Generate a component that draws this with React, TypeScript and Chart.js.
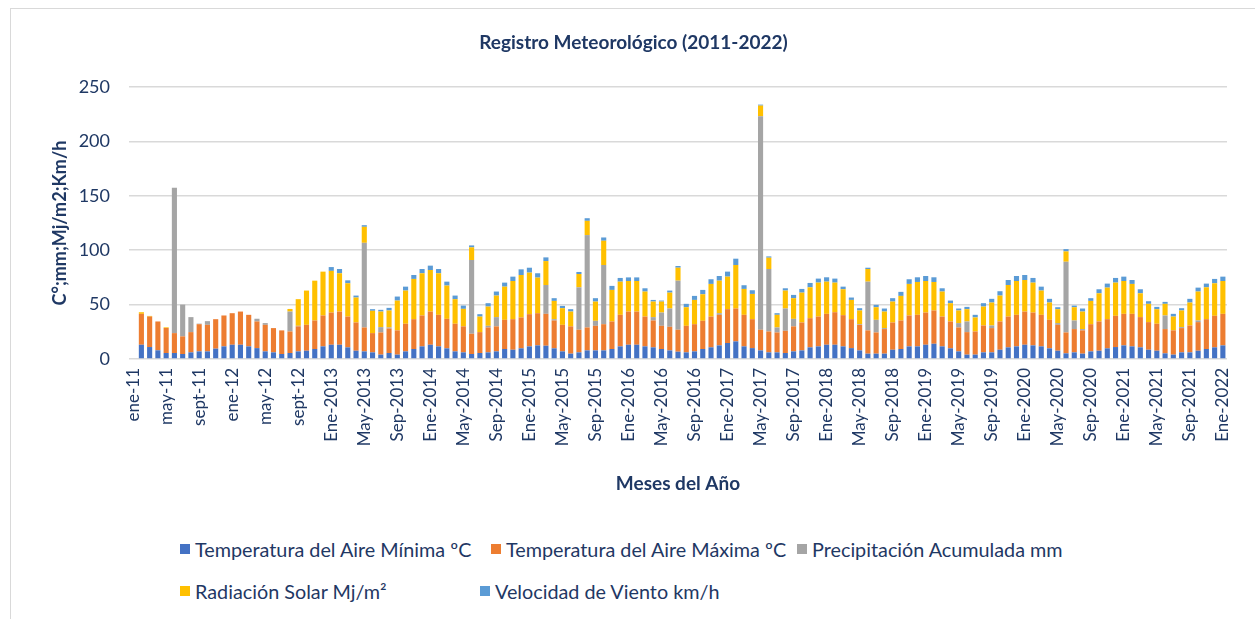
import React, { useEffect, useRef } from "react";
import { Chart, registerables } from "chart.js";
Chart.register(...registerables);

const categories = [
  "ene-11","feb-11","mar-11","abr-11","may-11","jun-11","jul-11","ago-11","sept-11","oct-11","nov-11","dic-11",
  "ene-12","feb-12","mar-12","abr-12","may-12","jun-12","jul-12","ago-12","sept-12","oct-12","nov-12","dic-12",
  "Ene-2013","Feb-2013","Mar-2013","Abr-2013","May-2013","Jun-2013","Jul-2013","Ago-2013","Sep-2013","Oct-2013","Nov-2013","Dic-2013",
  "Ene-2014","Feb-2014","Mar-2014","Abr-2014","May-2014","Jun-2014","Jul-2014","Ago-2014","Sep-2014","Oct-2014","Nov-2014","Dic-2014",
  "Ene-2015","Feb-2015","Mar-2015","Abr-2015","May-2015","Jun-2015","Jul-2015","Ago-2015","Sep-2015","Oct-2015","Nov-2015","Dic-2015",
  "Ene-2016","Feb-2016","Mar-2016","Abr-2016","May-2016","Jun-2016","Jul-2016","Ago-2016","Sep-2016","Oct-2016","Nov-2016","Dic-2016",
  "Ene-2017","Feb-2017","Mar-2017","Abr-2017","May-2017","Jun-2017","Jul-2017","Ago-2017","Sep-2017","Oct-2017","Nov-2017","Dic-2017",
  "Ene-2018","Feb-2018","Mar-2018","Abr-2018","May-2018","Jun-2018","Jul-2018","Ago-2018","Sep-2018","Oct-2018","Nov-2018","Dic-2018",
  "Ene-2019","Feb-2019","Mar-2019","Abr-2019","May-2019","Jun-2019","Jul-2019","Ago-2019","Sep-2019","Oct-2019","Nov-2019","Dic-2019",
  "Ene-2020","Feb-2020","Mar-2020","Abr-2020","May-2020","Jun-2020","Jul-2020","Ago-2020","Sep-2020","Oct-2020","Nov-2020","Dic-2020",
  "Ene-2021","Feb-2021","Mar-2021","Abr-2021","May-2021","Jun-2021","Jul-2021","Ago-2021","Sep-2021","Oct-2021","Nov-2021","Dic-2021",
  "Ene-2022",
];

const tickLabels = [
  "ene-11","may-11","sept-11","ene-12","may-12","sept-12",
  "Ene-2013","May-2013","Sep-2013","Ene-2014","May-2014","Sep-2014",
  "Ene-2015","May-2015","Sep-2015","Ene-2016","May-2016","Sep-2016",
  "Ene-2017","May-2017","Sep-2017","Ene-2018","May-2018","Sep-2018",
  "Ene-2019","May-2019","Sep-2019","Ene-2020","May-2020","Sep-2020",
  "Ene-2021","May-2021","Sep-2021","Ene-2022",
];

const tempMin = [
  null, 13.1, 11, 8, 5.5, 5.5, 4.6, 6.1, 7, 7, 9.5, 11.6,
  13.1, 13.1, 11.6, 10, 7, 6.1, 4.6, 5.5, 7, 7.6, 9.2, 11.6,
  13.1, 13.1, 10.7, 7.6, 7, 6.1, 4, 5.5, 4, 7, 9.2, 11.6,
  13.1, 11.6, 9.8, 7, 6.1, 4.6, 5.5, 6.1, 7, 9.2, 8.5, 9.8,
  11.6, 12.5, 12.2, 9.8, 7, 4.9, 6.1, 7.9, 7.9, 7.9, 9.2, 11.6,
  13.1, 13.1, 11.6, 10.7, 9.2, 7.9, 6.7, 6.1, 7, 9.2, 10.7, 12.5,
  14.7, 16.2, 11.6, 10, 7.9, 6.1, 6.1, 5.5, 7, 7.9, 10.7, 11.6,
  13.1, 13.1, 11.6, 10, 7.9, 4.9, 4.9, 4.9, 8.5, 9.2, 11.6, 11.6,
  13.1, 14, 11.6, 9.8, 7, 4, 4, 6.1, 6.1, 8.5, 10.7, 11.6,
  13.1, 12.5, 11.6, 9.8, 7.6, 5.2, 6.1, 4.9, 7, 7.6, 9.8, 11,
  12.5, 11.6, 10.7, 8.5, 7.6, 5.2, 4, 6.1, 6.1, 7.6, 9.2, 10.7,
  12.5,
];

const tempMax = [
  null, 28.4, 28, 26.5, 23, 18.3, 16.2, 18.6, 25, 24.4, 27.1, 28.4,
  29, 30.5, 29, 24.5, 24.4, 22.3, 21.7, 19.8, 23, 23.8, 26.2, 28.4,
  29.6, 30.5, 28.3, 26, 22, 17.7, 20.4, 22.5, 22.3, 25.4, 27.4, 28.4,
  30.5, 29, 27.1, 25.4, 23.9, 18.6, 19.2, 22.9, 23, 26.8, 28.1, 28.4,
  29.6, 29.6, 29.3, 25.6, 24.4, 25.1, 20.8, 21.1, 22.6, 24.1, 25.3, 29,
  30.5, 30.5, 27.4, 24.7, 21.3, 21.7, 20.2, 24.4, 25, 25.9, 28.3, 28.1,
  31.1, 30.2, 29, 26.6, 19, 19.2, 18.3, 20.4, 23, 25.7, 26.8, 27.4,
  28.4, 29.9, 28.7, 26.6, 23.5, 21.4, 19.5, 22.6, 25.1, 26.2, 28.4, 29,
  29.6, 30.6, 27.4, 24.7, 22, 20.7, 21.3, 24.7, 22.3, 26, 28.3, 29,
  30.5, 30.2, 29, 26.2, 23.8, 19.2, 21.4, 21.4, 25, 26.9, 26.8, 28.7,
  29, 29.9, 27.8, 25.4, 24.8, 22.3, 22.3, 22.3, 24.7, 26.3, 27.4, 29,
  29,
];

const precipitation = [
  null, 0, 0, 0, 0, 133.7, 29.2, 13.8, 0.5, 3.4, 0, 0,
  0, 0, 0, 2.5, 1.6, 0, 0, 18.3, 0.5, 0, 0, 0,
  0, 0, 0, 0, 77.8, 0, 4.9, 1, 0, 0, 0, 0,
  0, 0, 0, 0, 0, 67.8, 0, 1.5, 8.5, 0, 0, 0,
  0, 0, 26.5, 1.2, 0, 0, 39, 84.9, 4.6, 54.4, 0, 0,
  0, 0, 0, 3.1, 12.2, 16.8, 45.1, 0, 0, 0, 0, 1.5,
  0, 0, 0, 0, 196.2, 57.4, 4.6, 20.5, 6.9, 0, 0, 0,
  0, 0, 0, 0, 0.6, 44.8, 11.6, 0.9, 0, 0, 0, 0,
  0, 0, 0, 0, 4, 9.8, 0, 0, 2.4, 0, 0, 0,
  0, 0, 0, 0, 1.6, 65, 7.9, 1.2, 0, 0, 0, 0,
  0, 0, 0, 0, 0, 12.5, 0, 0.9, 0, 1.5, 0, 0,
  0,
];

const radiation = [
  null, 1.5, 0.6, 0, 0.6, 0, 0, 0, 0, 0, 0, 0,
  0, 0, 0, 0, 0, 0, 0, 2.4, 24.5, 31.5, 36.6, 40.3,
  38.3, 35.2, 30.6, 22.9, 14.7, 20.5, 14.3, 15.6, 27.4, 30.5, 37, 38.8,
  38.2, 38.2, 30.6, 22.6, 16.1, 11.6, 14.3, 17.7, 19.8, 30.5, 35.1, 39,
  38.2, 32.7, 22, 16.8, 15.3, 13.6, 12.2, 13.1, 17.7, 22.3, 29, 30.5,
  28.1, 28.1, 23, 14.3, 10.1, 14.6, 11.9, 17.1, 22.3, 24.4, 30, 29.9,
  29.9, 40, 23.8, 23.2, 9.8, 10.4, 11.6, 16.5, 19, 27.4, 28.4, 31.2,
  29.6, 27.2, 23.8, 17.7, 12.6, 11.6, 11.6, 15.2, 19.2, 22.6, 29, 30.2,
  29, 26.2, 23, 16.8, 11.6, 11.3, 12.9, 17.4, 21.1, 23.8, 29, 31.1,
  29, 27.5, 22.3, 15.9, 12.8, 9.5, 12.2, 16.1, 21.4, 25.9, 29, 30.5,
  30.2, 27.5, 21.9, 16.8, 13.4, 10.7, 12.7, 15.3, 21.1, 26.6, 29.3, 29.9,
  30.2,
];

const windSpeed = [
  null, 0, 0, 0, 0, 0, 0, 0, 0, 0, 0, 0,
  0, 0, 0, 0, 0, 0, 0, 0, 0, 0, 0, 0,
  3.5, 3.9, 2.7, 1.8, 1.5, 1.5, 1.6, 2.4, 3.7, 3.6, 3.6, 3.9,
  4, 3.9, 3.6, 3.3, 3, 1.8, 2.2, 3.1, 3.7, 3.7, 4, 5.2,
  4.5, 4, 3.4, 2.5, 2.1, 2.2, 1.9, 2.4, 3.1, 3, 3.7, 3.4,
  3.3, 3.3, 3, 1.5, 0.9, 1.9, 1.6, 3.1, 3.7, 4, 4.3, 4.3,
  4.6, 5.8, 3.4, 3.4, 0.9, 1.2, 1.5, 2.1, 3, 3.4, 4, 3.7,
  4, 3.7, 2.4, 2.2, 2.1, 1.2, 2.2, 2.8, 3.1, 3.7, 4.3, 4.3,
  4.6, 4.3, 3, 2.4, 1.8, 2.1, 2.4, 3.1, 3.4, 4, 4.6, 4.6,
  4.6, 4.3, 3.6, 3.4, 1.8, 2.1, 1.5, 2.8, 2.5, 3.7, 3.7, 4.3,
  4, 3.6, 3.7, 2.4, 2.1, 1.8, 2.5, 2.1, 3.4, 3.6, 3.4, 4,
  4,
];

const seriesNames = [
  "Temperatura del Aire Mínima ºC",
  "Temperatura del Aire Máxima ºC",
  "Precipitación Acumulada mm",
  "Radiación Solar Mj/m²",
  "Velocidad de Viento km/h",
];
const seriesColors = ["#4472C4", "#ED7D31", "#A5A5A5", "#FFC000", "#5B9BD5"];

const NAVY = "#1F3864";
const FONT = "Lato, 'Open Sans', sans-serif";

const legendPlaces = [
  { left: 180, top: 549 },
  { left: 491, top: 549 },
  { left: 797, top: 549 },
  { left: 180, top: 591 },
  { left: 480, top: 591 },
];

export default function App() {
  const ref = useRef<HTMLCanvasElement>(null);

  useEffect(() => {
    if (!ref.current) return;
    Chart.defaults.font.family = FONT;
    const values = [tempMin, tempMax, precipitation, radiation, windSpeed];
    const chart = new Chart(ref.current, {
      type: "bar",
      data: {
        labels: categories,
        datasets: values.map((v, i) => ({
          label: seriesNames[i],
          data: v,
          backgroundColor: seriesColors[i],
          borderWidth: 0,
          barPercentage: 0.62,
          categoryPercentage: 1,
        })),
      },
      options: {
        responsive: false,
        animation: false,
        layout: { padding: { left: 40, right: 28, top: 0, bottom: 0 } },
        plugins: {
          legend: { display: false },
          tooltip: { enabled: false },
          title: {
            display: true,
            text: "Registro Meteorológico (2011-2022)",
            color: NAVY,
            font: { size: 19, weight: "bold", family: FONT },
            padding: { top: 31.6, bottom: 32.6 },
          },
        },
        scales: {
          x: {
            stacked: true,
            offset: true,
            grid: { display: false, drawTicks: false },
            border: { display: false },
            ticks: {
              autoSkip: false,
              maxRotation: 90,
              minRotation: 90,
              padding: 9,
              color: NAVY,
              font: { size: 17, family: FONT },
              callback: (_v: any, idx: number) =>
                tickLabels.includes(categories[idx]) ? categories[idx] : "",
            },
            title: {
              display: true,
              text: "Meses del Año",
              color: NAVY,
              font: { size: 19, weight: "bold", family: FONT },
              padding: { top: 0, bottom: 24.6 },
            },
            afterFit: (s: any) => {
              s.height = 161;
            },
          },
          y: {
            stacked: true,
            min: 0,
            max: 250,
            ticks: {
              stepSize: 50,
              padding: 19,
              color: NAVY,
              font: { size: 18, family: FONT },
            },
            grid: { color: "#d9d9d9", lineWidth: 1.5, drawTicks: false },
            border: { display: false },
            title: {
              display: true,
              text: "C°;mm;Mj/m2;Km/h",
              color: NAVY,
              font: { size: 18, weight: "bold", family: FONT },
              padding: { top: 9, bottom: 0 },
            },
            afterFit: (s: any) => {
              s.width = 89;
            },
          },
        },
      },
    });
    return () => chart.destroy();
  }, []);

  return (
    <div
      style={{
        position: "fixed",
        left: 0,
        top: 0,
        width: 1255,
        height: 619,
        overflow: "hidden",
        background: "#fff",
        fontFamily: FONT,
      }}
    >
      <div
        style={{
          position: "absolute",
          left: 10,
          top: 8,
          width: 1260,
          height: 640,
          border: "1px solid #d9d9d9",
        }}
      />
      <canvas
        ref={ref}
        width={1255}
        height={520}
        style={{ position: "absolute", left: 0, top: 0, display: "block" }}
      />
      {seriesNames.map((name, i) => (
        <div
          key={name}
          style={{
            position: "absolute",
            left: legendPlaces[i].left,
            top: legendPlaces[i].top - 13,
            height: 26,
            display: "flex",
            alignItems: "center",
            whiteSpace: "nowrap",
            color: NAVY,
            fontSize: 19.8,
          }}
        >
          <span
            style={{
              display: "inline-block",
              width: 10,
              height: 10,
              background: seriesColors[i],
              marginRight: 5,
            }}
          />
          <span>{name}</span>
        </div>
      ))}
    </div>
  );
}
